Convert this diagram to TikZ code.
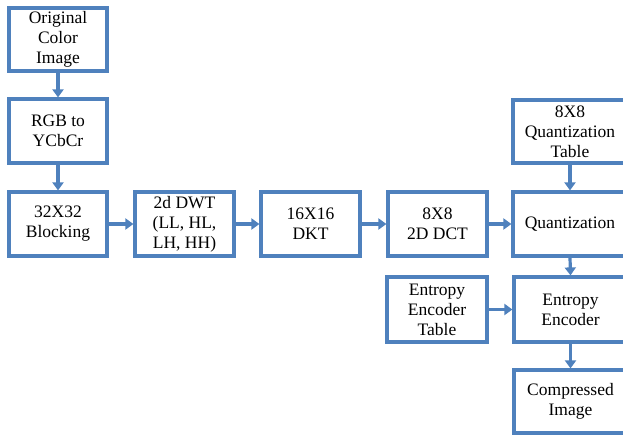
\documentclass[tikz,border=0pt]{standalone}
\usepackage{fontspec}
\setmainfont{Liberation Serif}
\usetikzlibrary{arrows.meta}
\definecolor{boxblue}{RGB}{79,129,189}
\begin{document}
\begin{tikzpicture}[x=1pt,y=-1pt,
  box/.style={draw=boxblue,line width=3.2pt,rectangle,align=center,inner sep=0pt,
    font=\fontsize{17.5}{20}\selectfont,text=black},
  conn/.style={draw=boxblue,line width=3.2pt,-{Triangle[length=8pt,width=11pt]}}]
\useasboundingbox (0,0) rectangle (623,434);
\begin{scope}
\clip (0,0) rectangle (623,434);
\node[box,minimum width=98,minimum height=63] (orig) at (58,39.5) {Original\\Color\\Image};
\node[box,minimum width=98,minimum height=64] (rgb) at (58,131) {RGB to\\YCbCr};
\node[box,minimum width=98,minimum height=64] (blk) at (58,224) {32X32\\Blocking};
\node[box,minimum width=99,minimum height=64] (dwt) at (184.5,224) {2d DWT\\(LL, HL,\\LH, HH)};
\node[box,minimum width=99,minimum height=64] (dkt) at (310.5,224) {16X16\\DKT};
\node[box,minimum width=99,minimum height=64] (dct) at (437.5,224) {8X8\\2D DCT};
\node[box,minimum width=114,minimum height=64] (quant) at (570,224) {Quantization};
\node[box,minimum width=114,minimum height=63] (qtab) at (570,131.5) {8X8\\Quantization\\Table};
\node[box,minimum width=113,minimum height=65] (ent) at (570.5,309.5) {Entropy\\Encoder};
\node[box,minimum width=100,minimum height=65] (etab) at (437,309.5) {Entropy\\Encoder\\Table};
\node[box,minimum width=113,minimum height=63] (comp) at (570.5,401.5) {Compressed\\Image};
\end{scope}
\draw[conn] (orig) -- (rgb);
\draw[conn] (rgb) -- (blk);
\draw[conn] (blk) -- (dwt);
\draw[conn] (dwt) -- (dkt);
\draw[conn] (dkt) -- (dct);
\draw[conn] (dct) -- (quant);
\draw[conn] (qtab.south) -- (quant.north);
\draw[conn] (quant.south) -- (ent.north);
\draw[conn] (etab) -- (ent);
\draw[conn] (ent.south) -- (comp.north);
\end{tikzpicture}
\end{document}
